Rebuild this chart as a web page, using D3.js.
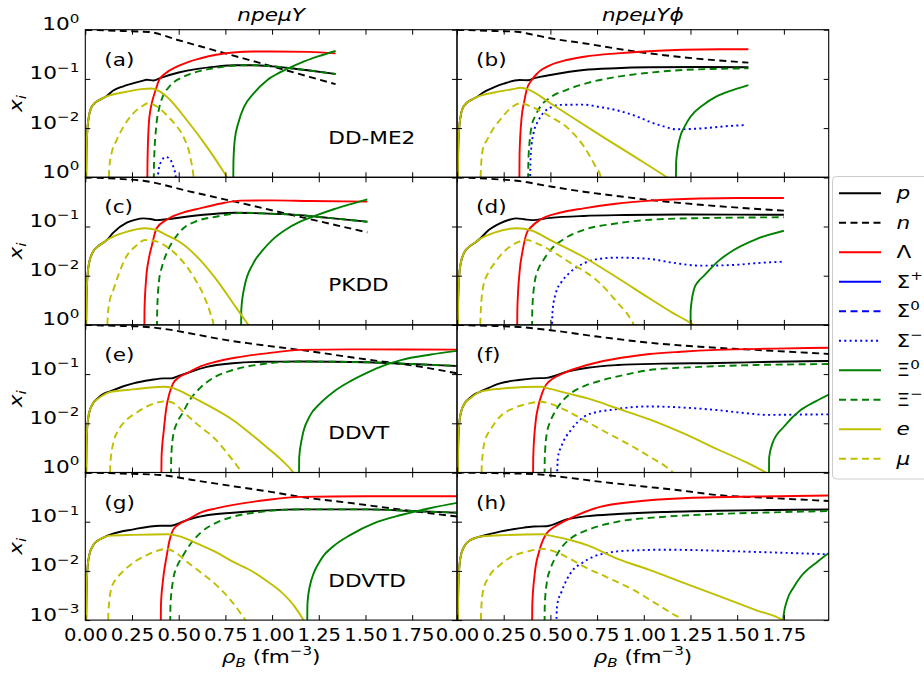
<!DOCTYPE html>
<html><head><meta charset="utf-8">
<script src="https://cdn.jsdelivr.net/npm/d3@7/dist/d3.min.js"></script>
<style>body{margin:0;background:#fff}svg{display:block}text{font-family:"DejaVu Sans",sans-serif;fill:#000}</style>
</head><body><svg id="c" width="924" height="675"></svg>
<script>
// ---------------- DATA  [rho_B (fm^-3), x_i] ----------------
const xTicks = [0, 0.25, 0.5, 0.75, 1.0, 1.25, 1.5, 1.75];
const yTicks = [1e-3, 1e-2, 1e-1, 1];
const columnTitles = ["npeμY", "npeμYϕ"];
const models = ["DD-ME2", "PKDD", "DDVT", "DDVTD"];
const panelTags = ["(a)","(b)","(c)","(d)","(e)","(f)","(g)","(h)"];

// (a) DD-ME2, npeμY
const a_n = [[0,1.0],[0.1,0.97],[0.2,0.94],[0.3,0.915],[0.34,0.9],[0.5,0.61],[0.75,0.33],[1.0,0.18],[1.2,0.11],[1.34,0.078]];
const a_p = [[0.003,0.0003],[0.006,0.003],[0.01,0.008],[0.02,0.018],[0.03,0.025],[0.05,0.032],[0.08,0.038],[0.115,0.045],[0.15,0.058],[0.2,0.07],[0.25,0.08],[0.3,0.09],[0.33,0.096],[0.365,0.093],[0.4,0.104],[0.5,0.135],[0.6,0.16],[0.7,0.178],[0.8,0.19],[0.9,0.19],[1.0,0.18],[1.1,0.165],[1.2,0.148],[1.34,0.126]];
const a_L = [[0.33,0.0001],[0.333,0.002],[0.34,0.012],[0.35,0.025],[0.36,0.037],[0.38,0.065],[0.395,0.095],[0.43,0.13],[0.49,0.177],[0.55,0.22],[0.614,0.26],[0.7,0.31],[0.79,0.345],[0.9,0.36],[1.0,0.36],[1.2,0.355],[1.34,0.33]];
const a_Sm = [[0.383,0.0007],[0.395,0.0016],[0.41,0.0022],[0.43,0.0026],[0.45,0.0024],[0.47,0.0017],[0.485,0.001],[0.49,0.0007]];
const a_X0 = [[0.79,0.0001],[0.793,0.002],[0.8,0.0057],[0.82,0.013],[0.85,0.027],[0.9,0.05],[0.975,0.095],[1.05,0.14],[1.15,0.21],[1.25,0.29],[1.34,0.37]];
const a_Xm = [[0.365,0.0001],[0.368,0.002],[0.38,0.011],[0.395,0.025],[0.415,0.044],[0.45,0.07],[0.525,0.11],[0.6,0.14],[0.686,0.164],[0.79,0.185],[0.9,0.19],[1.0,0.18],[1.1,0.165],[1.2,0.148],[1.34,0.126]];
const a_e = [[0.003,0.0003],[0.006,0.003],[0.01,0.008],[0.02,0.018],[0.03,0.025],[0.05,0.032],[0.08,0.038],[0.115,0.044],[0.2,0.053],[0.3,0.062],[0.355,0.064],[0.4,0.055],[0.435,0.044],[0.543,0.0146],[0.65,0.0042],[0.72,0.0017],[0.757,0.001],[0.78,0.0006]];
const a_mu = [[0.123,0.0002],[0.128,0.0015],[0.14,0.003],[0.168,0.0057],[0.2,0.01],[0.257,0.02],[0.3,0.027],[0.337,0.032],[0.38,0.028],[0.435,0.0185],[0.48,0.012],[0.525,0.0067],[0.56,0.0028],[0.58,0.001],[0.59,0.0004]];

// (b) DD-ME2, npeμYϕ
const b_n = [[0,1.0],[0.1,0.97],[0.2,0.94],[0.32,0.91],[0.4,0.8],[0.5,0.67],[0.678,0.53],[0.963,0.357],[1.21,0.275],[1.56,0.214]];
const b_p = [[0.003,0.0003],[0.006,0.003],[0.01,0.008],[0.02,0.018],[0.03,0.025],[0.05,0.032],[0.08,0.038],[0.115,0.045],[0.14,0.053],[0.2,0.068],[0.25,0.08],[0.335,0.095],[0.38,0.094],[0.42,0.105],[0.5,0.12],[0.678,0.152],[0.85,0.165],[1.03,0.172],[1.3,0.175],[1.56,0.172]];
const b_L = [[0.332,0.0001],[0.335,0.003],[0.345,0.015],[0.36,0.035],[0.373,0.06],[0.4,0.095],[0.43,0.13],[0.5,0.19],[0.587,0.242],[0.7,0.29],[0.856,0.33],[1.0,0.36],[1.21,0.39],[1.4,0.4],[1.56,0.4]];
const b_Sm = [[0.39,0.0005],[0.395,0.003],[0.41,0.008],[0.435,0.014],[0.46,0.02],[0.5,0.026],[0.55,0.0296],[0.678,0.03],[0.76,0.027],[0.856,0.023],[0.95,0.018],[1.03,0.0135],[1.1,0.011],[1.17,0.0095],[1.3,0.0098],[1.45,0.011],[1.54,0.0115]];
const b_X0 = [[1.17,0.0001],[1.173,0.002],[1.19,0.0057],[1.22,0.011],[1.25,0.017],[1.32,0.03],[1.39,0.044],[1.48,0.06],[1.56,0.075]];
const b_Xm = [[0.379,0.0001],[0.382,0.002],[0.39,0.006],[0.4,0.011],[0.42,0.018],[0.445,0.027],[0.5,0.042],[0.587,0.06],[0.7,0.083],[0.856,0.11],[1.0,0.13],[1.21,0.152],[1.4,0.16],[1.56,0.164]];
const b_e = [[0.003,0.0003],[0.006,0.003],[0.01,0.008],[0.02,0.018],[0.03,0.025],[0.05,0.032],[0.08,0.038],[0.115,0.044],[0.2,0.053],[0.3,0.062],[0.34,0.066],[0.386,0.06],[0.5,0.032],[0.766,0.0072],[1.0,0.002],[1.123,0.001],[1.16,0.0008]];
const b_mu = [[0.123,0.0002],[0.128,0.0015],[0.14,0.004],[0.16,0.0057],[0.2,0.0105],[0.23,0.0146],[0.28,0.024],[0.34,0.032],[0.4,0.027],[0.5,0.017],[0.6,0.0095],[0.68,0.0042],[0.74,0.0017],[0.77,0.001],[0.78,0.0006]];

// (c) PKDD, npeμY
const c_n = [[0,1.0],[0.1,0.965],[0.2,0.92],[0.31,0.85],[0.55,0.525],[0.8,0.32],[1.15,0.157],[1.51,0.076]];
const c_p = [[0.003,0.0003],[0.006,0.003],[0.01,0.008],[0.02,0.018],[0.04,0.03],[0.07,0.04],[0.1,0.048],[0.115,0.053],[0.15,0.075],[0.222,0.12],[0.27,0.138],[0.31,0.146],[0.35,0.142],[0.38,0.135],[0.435,0.14],[0.55,0.16],[0.7,0.182],[0.8,0.19],[0.95,0.185],[1.15,0.17],[1.3,0.15],[1.51,0.125]];
const c_L = [[0.314,0.0001],[0.317,0.002],[0.325,0.008],[0.34,0.022],[0.355,0.039],[0.382,0.092],[0.435,0.137],[0.52,0.19],[0.614,0.234],[0.72,0.29],[0.83,0.335],[1.0,0.34],[1.2,0.33],[1.51,0.32]];
const c_X0 = [[0.832,0.0001],[0.835,0.002],[0.85,0.0055],[0.9,0.018],[0.95,0.033],[1.0,0.053],[1.07,0.085],[1.15,0.125],[1.24,0.17],[1.33,0.224],[1.42,0.285],[1.51,0.357]];
const c_Xm = [[0.382,0.0001],[0.385,0.002],[0.395,0.008],[0.41,0.015],[0.435,0.0285],[0.48,0.058],[0.525,0.092],[0.6,0.13],[0.7,0.158],[0.85,0.19],[0.95,0.185],[1.15,0.17],[1.3,0.15],[1.51,0.125]];
const c_e = [[0.003,0.0003],[0.006,0.003],[0.01,0.008],[0.02,0.018],[0.04,0.03],[0.07,0.04],[0.1,0.048],[0.115,0.053],[0.16,0.065],[0.22,0.078],[0.32,0.092],[0.38,0.085],[0.435,0.067],[0.5,0.05],[0.614,0.021],[0.7,0.0085],[0.793,0.0027],[0.84,0.0015],[0.873,0.001],[0.9,0.0007]];
const c_mu = [[0.115,0.0002],[0.12,0.0015],[0.13,0.003],[0.15,0.0051],[0.18,0.011],[0.22,0.0245],[0.27,0.04],[0.32,0.053],[0.38,0.05],[0.435,0.039],[0.5,0.024],[0.58,0.0095],[0.64,0.0035],[0.67,0.0017],[0.686,0.001],[0.69,0.0006]];

// (d) PKDD, npeμYϕ
const d_n = [[0,1.0],[0.1,0.965],[0.2,0.92],[0.32,0.85],[0.5,0.65],[0.678,0.51],[0.85,0.42],[1.034,0.345],[1.2,0.3],[1.39,0.26],[1.55,0.235],[1.75,0.21]];
const d_p = [[0.003,0.0003],[0.006,0.003],[0.01,0.008],[0.02,0.018],[0.04,0.03],[0.07,0.04],[0.1,0.048],[0.124,0.057],[0.17,0.085],[0.23,0.116],[0.28,0.137],[0.32,0.146],[0.36,0.14],[0.4,0.135],[0.5,0.15],[0.678,0.164],[0.9,0.171],[1.21,0.175],[1.5,0.174],[1.75,0.173]];
const d_L = [[0.32,0.0001],[0.323,0.002],[0.335,0.012],[0.35,0.03],[0.373,0.073],[0.4,0.1],[0.445,0.137],[0.55,0.19],[0.678,0.234],[0.85,0.29],[1.034,0.335],[1.3,0.37],[1.5,0.38],[1.75,0.38]];
const d_Sm = [[0.507,0.0005],[0.512,0.002],[0.53,0.0045],[0.56,0.0075],[0.6,0.0112],[0.678,0.0178],[0.76,0.022],[0.856,0.0233],[1.03,0.022],[1.15,0.0185],[1.3,0.016],[1.48,0.0165],[1.6,0.018],[1.75,0.0193]];
const d_X0 = [[1.248,0.0001],[1.251,0.002],[1.27,0.0055],[1.29,0.0075],[1.32,0.0098],[1.4,0.02],[1.48,0.033],[1.6,0.055],[1.75,0.082]];
const d_Xm = [[0.4,0.0001],[0.403,0.002],[0.415,0.007],[0.43,0.012],[0.46,0.02],[0.5,0.033],[0.58,0.058],[0.678,0.085],[0.85,0.115],[1.034,0.137],[1.3,0.148],[1.75,0.154]];
const d_e = [[0.003,0.0003],[0.006,0.003],[0.01,0.008],[0.02,0.018],[0.04,0.03],[0.07,0.04],[0.1,0.048],[0.124,0.056],[0.2,0.075],[0.32,0.092],[0.36,0.09],[0.4,0.083],[0.5,0.053],[0.678,0.024],[0.85,0.0095],[1.034,0.0034],[1.15,0.0018],[1.266,0.001],[1.3,0.0008]];
const d_mu = [[0.122,0.0002],[0.126,0.0015],[0.14,0.006],[0.165,0.011],[0.2,0.0178],[0.26,0.033],[0.32,0.047],[0.373,0.053],[0.43,0.045],[0.5,0.033],[0.6,0.019],[0.766,0.007],[0.86,0.0028],[0.92,0.0015],[0.945,0.001],[0.95,0.0006]];

// (e) DDVT, npeμY
const e_n = [[0,1.0],[0.1,0.975],[0.2,0.95],[0.31,0.92],[0.45,0.8],[0.6,0.63],[0.757,0.49],[0.9,0.41],[1.15,0.31],[1.5,0.2],[1.75,0.15],[2.0,0.102]];
const e_p = [[0.003,0.0003],[0.006,0.003],[0.01,0.008],[0.02,0.016],[0.04,0.025],[0.07,0.033],[0.1,0.04],[0.13,0.044],[0.2,0.056],[0.257,0.065],[0.35,0.076],[0.42,0.082],[0.46,0.082],[0.5,0.092],[0.543,0.104],[0.65,0.14],[0.79,0.166],[0.95,0.178],[1.15,0.18],[1.51,0.174],[1.75,0.16],[2.0,0.146]];
const e_L = [[0.405,0.0001],[0.408,0.002],[0.42,0.007],[0.435,0.022],[0.45,0.04],[0.47,0.065],[0.5,0.085],[0.543,0.104],[0.62,0.145],[0.7,0.178],[0.8,0.215],[0.97,0.264],[1.15,0.31],[1.5,0.318],[2.0,0.315]];
const e_X0 = [[1.142,0.0001],[1.145,0.002],[1.16,0.005],[1.2,0.0136],[1.26,0.026],[1.33,0.044],[1.42,0.072],[1.51,0.107],[1.6,0.15],[1.69,0.193],[1.85,0.25],[2.0,0.3]];
const e_Xm = [[0.457,0.0001],[0.46,0.002],[0.47,0.0055],[0.49,0.01],[0.52,0.016],[0.56,0.03],[0.614,0.052],[0.7,0.09],[0.79,0.121],[0.95,0.16],[1.15,0.18],[1.51,0.174],[1.75,0.16],[2.0,0.146]];
const e_e = [[0.003,0.0003],[0.006,0.003],[0.01,0.008],[0.02,0.016],[0.04,0.025],[0.07,0.032],[0.1,0.038],[0.13,0.043],[0.257,0.049],[0.42,0.0555],[0.47,0.052],[0.55,0.038],[0.65,0.024],[0.79,0.0117],[0.9,0.0055],[0.97,0.0033],[1.05,0.0018],[1.114,0.001],[1.14,0.0007]];
const e_mu = [[0.13,0.0002],[0.134,0.0015],[0.15,0.004],[0.18,0.0075],[0.22,0.0117],[0.27,0.016],[0.33,0.022],[0.43,0.028],[0.47,0.026],[0.525,0.017],[0.6,0.0095],[0.7,0.0046],[0.77,0.0022],[0.81,0.0014],[0.832,0.001],[0.84,0.0006]];

// (f) DDVT, npeμYϕ
const f_n = [[0,1.0],[0.1,0.975],[0.2,0.95],[0.31,0.92],[0.5,0.78],[0.75,0.58],[1.07,0.42],[1.3,0.36],[1.6,0.31],[2.0,0.256]];
const f_p = [[0.003,0.0003],[0.006,0.003],[0.01,0.008],[0.02,0.016],[0.04,0.025],[0.07,0.033],[0.1,0.04],[0.125,0.044],[0.23,0.065],[0.33,0.076],[0.41,0.082],[0.48,0.084],[0.59,0.112],[0.7,0.135],[0.86,0.153],[1.1,0.163],[1.39,0.168],[1.7,0.178],[2.0,0.185]];
const f_L = [[0.405,0.0001],[0.408,0.002],[0.42,0.01],[0.435,0.022],[0.455,0.04],[0.48,0.063],[0.57,0.104],[0.65,0.135],[0.766,0.178],[0.9,0.22],[1.03,0.256],[1.2,0.285],[1.39,0.31],[1.7,0.33],[2.0,0.344]];
const f_Sm = [[0.534,0.0005],[0.54,0.002],[0.56,0.0035],[0.61,0.0073],[0.68,0.0136],[0.75,0.017],[0.82,0.0186],[0.92,0.021],[1.03,0.022],[1.2,0.021],[1.39,0.0186],[1.55,0.016],[1.66,0.0148],[1.8,0.015],[2.0,0.0152]];
const f_X0 = [[1.668,0.0001],[1.671,0.002],[1.69,0.004],[1.75,0.0085],[1.84,0.0186],[1.92,0.028],[2.0,0.04]];
const f_Xm = [[0.467,0.0001],[0.47,0.002],[0.48,0.006],[0.5,0.011],[0.52,0.016],[0.56,0.027],[0.61,0.041],[0.68,0.057],[0.766,0.073],[0.9,0.097],[1.03,0.121],[1.3,0.14],[1.6,0.153],[2.0,0.16]];
const f_e = [[0.003,0.0003],[0.006,0.003],[0.01,0.008],[0.02,0.016],[0.04,0.025],[0.07,0.032],[0.1,0.039],[0.125,0.044],[0.23,0.0505],[0.445,0.0555],[0.5,0.05],[0.6,0.04],[0.7,0.032],[0.86,0.02],[1.03,0.012],[1.21,0.0063],[1.4,0.0029],[1.55,0.0016],[1.654,0.001],[1.7,0.0008]];
const f_mu = [[0.129,0.0002],[0.133,0.0015],[0.15,0.0045],[0.18,0.0075],[0.23,0.0136],[0.3,0.02],[0.38,0.025],[0.45,0.0275],[0.5,0.025],[0.6,0.017],[0.678,0.0117],[0.8,0.0065],[0.945,0.0033],[1.05,0.0019],[1.12,0.0013],[1.155,0.001],[1.16,0.0006]];

// (g) DDVTD, npeμY
const g_n = [[0,1.0],[0.1,0.975],[0.2,0.95],[0.4,0.89],[0.6,0.68],[0.8,0.52],[1.0,0.4],[1.15,0.32],[1.4,0.245],[1.69,0.176],[2.0,0.126]];
const g_p = [[0.003,0.0003],[0.006,0.003],[0.01,0.009],[0.02,0.02],[0.04,0.032],[0.07,0.042],[0.1,0.048],[0.13,0.054],[0.257,0.07],[0.4,0.083],[0.46,0.083],[0.5,0.092],[0.543,0.108],[0.65,0.135],[0.79,0.152],[0.95,0.168],[1.15,0.178],[1.51,0.178],[1.75,0.165],[2.0,0.152]];
const g_L = [[0.402,0.0001],[0.405,0.002],[0.415,0.006],[0.435,0.0195],[0.45,0.04],[0.47,0.068],[0.5,0.088],[0.543,0.108],[0.62,0.155],[0.7,0.187],[0.97,0.276],[1.15,0.32],[1.5,0.33],[2.0,0.33]];
const g_X0 = [[1.186,0.0001],[1.189,0.002],[1.2,0.0045],[1.26,0.0166],[1.33,0.032],[1.42,0.054],[1.55,0.095],[1.69,0.137],[1.85,0.19],[2.0,0.245]];
const g_Xm = [[0.453,0.0001],[0.456,0.002],[0.47,0.0065],[0.49,0.012],[0.52,0.0195],[0.56,0.034],[0.614,0.058],[0.7,0.095],[0.79,0.126],[0.95,0.16],[1.15,0.178],[1.51,0.178],[1.75,0.165],[2.0,0.152]];
const g_e = [[0.003,0.0003],[0.006,0.003],[0.01,0.009],[0.02,0.02],[0.04,0.032],[0.07,0.042],[0.1,0.048],[0.13,0.052],[0.257,0.054],[0.435,0.0555],[0.49,0.052],[0.6,0.036],[0.7,0.024],[0.79,0.0154],[0.9,0.0095],[0.97,0.0063],[1.05,0.0037],[1.12,0.0019],[1.168,0.001],[1.2,0.0006]];
const g_mu = [[0.12,0.0002],[0.124,0.0015],[0.14,0.0045],[0.17,0.0072],[0.2,0.0096],[0.26,0.015],[0.33,0.021],[0.435,0.0279],[0.48,0.024],[0.543,0.0154],[0.6,0.0105],[0.65,0.0075],[0.7,0.0052],[0.78,0.0025],[0.83,0.0014],[0.855,0.001],[0.86,0.0006]];

// (h) DDVTD, npeμYϕ
const h_n = [[0,1.0],[0.2,0.97],[0.41,0.93],[0.6,0.78],[0.75,0.66],[1.0,0.52],[1.2,0.43],[1.39,0.35],[1.7,0.3],[2.0,0.263]];
const h_p = [[0.003,0.0003],[0.006,0.003],[0.01,0.009],[0.02,0.02],[0.04,0.032],[0.07,0.042],[0.1,0.047],[0.125,0.05],[0.23,0.063],[0.33,0.073],[0.41,0.08],[0.48,0.081],[0.59,0.112],[0.7,0.13],[0.86,0.143],[1.1,0.157],[1.39,0.167],[1.7,0.173],[2.0,0.177]];
const h_L = [[0.4,0.0001],[0.403,0.002],[0.415,0.008],[0.44,0.025],[0.46,0.042],[0.48,0.058],[0.52,0.078],[0.57,0.1],[0.65,0.14],[0.766,0.2],[0.95,0.255],[1.21,0.3],[1.6,0.325],[2.0,0.34]];
const h_Sm = [[0.53,0.0005],[0.536,0.002],[0.56,0.0038],[0.62,0.0104],[0.67,0.0145],[0.73,0.0195],[0.8,0.023],[0.86,0.025],[1.0,0.0265],[1.12,0.027],[1.35,0.026],[1.57,0.0245],[1.8,0.023],[2.0,0.0217]];
const h_X0 = [[1.745,0.0001],[1.748,0.0012],[1.768,0.0026],[1.8,0.0045],[1.84,0.0076],[1.93,0.0154],[2.0,0.0245]];
const h_Xm = [[0.467,0.0001],[0.47,0.002],[0.48,0.0055],[0.5,0.011],[0.52,0.0166],[0.56,0.03],[0.61,0.046],[0.7,0.068],[0.86,0.1],[1.1,0.125],[1.39,0.143],[1.7,0.155],[2.0,0.165]];
const h_e = [[0.003,0.0003],[0.006,0.003],[0.01,0.009],[0.02,0.02],[0.04,0.032],[0.07,0.042],[0.1,0.047],[0.125,0.05],[0.23,0.053],[0.46,0.0555],[0.5,0.052],[0.6,0.043],[0.7,0.033],[0.86,0.0175],[1.03,0.0105],[1.21,0.0058],[1.4,0.0031],[1.6,0.0016],[1.743,0.001],[1.78,0.0008]];
const h_mu = [[0.125,0.0002],[0.129,0.0015],[0.14,0.004],[0.17,0.0075],[0.23,0.0132],[0.3,0.02],[0.38,0.025],[0.46,0.028],[0.52,0.025],[0.6,0.018],[0.68,0.0122],[0.8,0.0075],[0.945,0.0041],[1.08,0.002],[1.16,0.0013],[1.204,0.001],[1.21,0.0006]];

// ---------------- STYLE ----------------
const speciesKeys = ["p","n","L","Sp","S0","Sm","X0","Xm","e","mu"];
const YEL = "#bfbf00";
const styles = {
  p:{c:"#000",d:null}, n:{c:"#000",d:"7,4.5"}, L:{c:"#ff0000",d:null},
  Sp:{c:"#0000ff",d:null}, S0:{c:"#0000ff",d:"7,4.5"}, Sm:{c:"#0000ff",d:"2,3.3"},
  X0:{c:"#008000",d:null}, Xm:{c:"#008000",d:"7,4.5"}, e:{c:YEL,d:null}, mu:{c:YEL,d:"7,4.5"}
};
const legendLabels = {
  p:[{t:"p",i:1}], n:[{t:"n",i:1}], L:[{t:"Λ"}], Sp:[{t:"Σ"},{t:"+",s:"sup"}],
  S0:[{t:"Σ"},{t:"0",s:"sup"}], Sm:[{t:"Σ"},{t:"−",s:"sup"}], X0:[{t:"Ξ"},{t:"0",s:"sup"}],
  Xm:[{t:"Ξ"},{t:"−",s:"sup"}], e:[{t:"e",i:1}], mu:[{t:"μ",i:1}]
};

const panels = [
  {col:0,row:0,data:{p:a_p,n:a_n,L:a_L,Sm:a_Sm,X0:a_X0,Xm:a_Xm,e:a_e,mu:a_mu}},
  {col:1,row:0,data:{p:b_p,n:b_n,L:b_L,Sm:b_Sm,X0:b_X0,Xm:b_Xm,e:b_e,mu:b_mu}},
  {col:0,row:1,data:{p:c_p,n:c_n,L:c_L,X0:c_X0,Xm:c_Xm,e:c_e,mu:c_mu}},
  {col:1,row:1,data:{p:d_p,n:d_n,L:d_L,Sm:d_Sm,X0:d_X0,Xm:d_Xm,e:d_e,mu:d_mu}},
  {col:0,row:2,data:{p:e_p,n:e_n,L:e_L,X0:e_X0,Xm:e_Xm,e:e_e,mu:e_mu}},
  {col:1,row:2,data:{p:f_p,n:f_n,L:f_L,Sm:f_Sm,X0:f_X0,Xm:f_Xm,e:f_e,mu:f_mu}},
  {col:0,row:3,data:{p:g_p,n:g_n,L:g_L,X0:g_X0,Xm:g_Xm,e:g_e,mu:g_mu}},
  {col:1,row:3,data:{p:h_p,n:h_n,L:h_L,Sm:h_Sm,X0:h_X0,Xm:h_Xm,e:h_e,mu:h_mu}}
];

// ---------------- LAYOUT ----------------
const LEFTS = [85.3, 457];
const TOPS = [29.7, 177.3, 324.9, 472.5];
const PW = 371.7, PH = 147.6;
const FS = 18, SX = 1.2, FST = 17.5, SXT = 1.12;

const svg = d3.select("#c");
const x = d3.scaleLinear().domain([0, 1.99]).range([0, PW]);
const y = d3.scaleLog().domain([1e-3, 1]).range([PH, 0]);
const line = d3.line().x(d => x(d[0])).y(d => y(Math.max(d[1], 1e-5))).curve(d3.curveMonotoneX);

function rich(t, parts, fs) {
  let cur = 0;
  parts.forEach(p => {
    const target = p.s === "sup" ? -0.42 * fs : p.s === "sub" ? 0.24 * fs : 0;
    t.append("tspan").attr("dy", target - cur)
      .attr("font-size", p.s ? fs * 0.7 : fs)
      .attr("font-style", p.i ? "italic" : "normal").text(p.t);
    cur = target;
  });
}
function textAt(g, px, py, parts, anchor, extra) {
  const t = g.append("text").attr("text-anchor", anchor || "start")
    .attr("transform", `translate(${px},${py}) ${extra || ""} scale(${SX},1)`).attr("font-size", FS);
  rich(t, parts, FS);
  return t;
}
const expStr = v => { const e = Math.round(Math.log10(v)); return e === 0 ? "0" : "\u2212" + (-e); };

panels.forEach((P, i) => {
  const g = svg.append("g").attr("transform", `translate(${LEFTS[P.col]},${TOPS[P.row]})`);
  g.append("clipPath").attr("id", "clip" + i).append("rect").attr("width", PW).attr("height", PH);
  const lg = g.append("g").attr("clip-path", `url(#clip${i})`);
  speciesKeys.forEach(k => {
    if (!P.data[k]) return;
    lg.append("path").attr("d", line(P.data[k])).attr("fill", "none")
      .attr("stroke", styles[k].c).attr("stroke-width", 1.9)
      .attr("stroke-dasharray", styles[k].d);
  });

  const styleAxis = a => { a.select(".domain").remove(); a.attr("font-size", null).attr("font-family", null);
    a.selectAll(".tick line").attr("stroke", "#000").attr("stroke-width", 1); };

  const showX = P.row === 3;
  const ab = g.append("g").attr("transform", `translate(0,${PH})`)
    .call(d3.axisBottom(x).tickValues(xTicks).tickSize(-5).tickPadding(8).tickFormat(showX ? d3.format(".2f") : ""));
  styleAxis(ab);
  ab.selectAll(".tick text").attr("font-size", FST).attr("transform", `scale(${SXT},1)`);
  const at = g.append("g").call(d3.axisTop(x).tickValues(xTicks).tickSize(-5).tickFormat(""));
  styleAxis(at);

  const showY = P.col === 0;
  const al = g.append("g").call(d3.axisLeft(y).tickValues(yTicks).tickSize(-5).tickPadding(5).tickFormat(""));
  styleAxis(al);
  if (showY) {
    al.selectAll(".tick text").each(function (d) {
      const t = d3.select(this);
      if (d === 1e-3 && P.row < 3) return;
      t.attr("font-size", FS);
      rich(t, [{t:"10"}, {t:expStr(d), s:"sup"}], FS);
    }).attr("transform", `scale(${SX},1)`);
  }
  const ar = g.append("g").attr("transform", `translate(${PW},0)`)
    .call(d3.axisRight(y).tickValues(yTicks).tickSize(-5).tickFormat(""));
  styleAxis(ar);

  g.append("rect").attr("width", PW).attr("height", PH).attr("fill", "none")
    .attr("stroke", "#000").attr("stroke-width", 1.1);

  textAt(g, 19, 36, [{t:panelTags[i]}]);
  if (P.col === 0) textAt(g, 243, 114, [{t:models[P.row]}]);
});

// y labels
TOPS.forEach(t => {
  textAt(svg, 22, t + PH / 2, [{t:"x",i:1},{t:"i",i:1,s:"sub"}], "middle", "rotate(-90)");
});
// column titles
columnTitles.forEach((s, c) => textAt(svg, LEFTS[c] + PW / 2, 21, [{t:s,i:1}], "middle"));
// x labels
[0, 1].forEach(c => textAt(svg, LEFTS[c] + PW / 2, 663,
  [{t:"ρ",i:1},{t:"B",i:1,s:"sub"},{t:" (fm"},{t:"−3",s:"sup"},{t:")"}], "middle"));

// legend
const leg = svg.append("g");
leg.append("rect").attr("x", 832.5).attr("y", 176.5).attr("width", 110).attr("height", 302.5)
  .attr("rx", 4).attr("fill", "#fff").attr("stroke", "#cccccc").attr("stroke-width", 1);
speciesKeys.forEach((k, j) => {
  const ly = 193.3 + j * 29.5;
  leg.append("line").attr("x1", 839).attr("x2", 881).attr("y1", ly).attr("y2", ly)
    .attr("stroke", styles[k].c).attr("stroke-width", 1.9).attr("stroke-dasharray", styles[k].d);
  textAt(leg, 896.5, ly + 6, legendLabels[k]);
});
</script></body></html>
